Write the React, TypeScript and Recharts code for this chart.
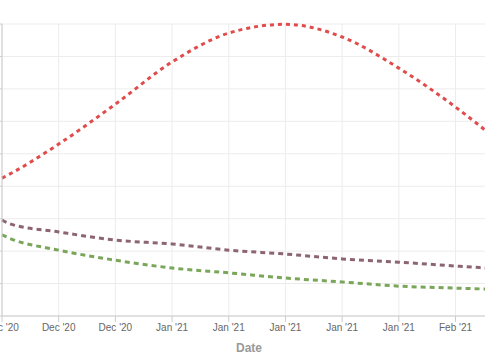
import { LineChart, Line, XAxis, YAxis, CartesianGrid } from 'recharts';

// days after the first tick (Dec '20)
const days = [0, 1, 7, 14, 21, 28, 35, 42, 49, 56, 61];
const seriesA = [425, 438, 530, 653, 783, 872, 899, 860, 764, 644, 546];
const seriesB = [296, 284, 259, 234, 222, 203, 191, 176, 166, 154, 146];
const seriesC = [250, 239, 203, 172, 148, 133, 117, 105, 92, 86, 82];

const xTicks = [0, 7, 14, 21, 28, 35, 42, 49, 56];
const xTickLabels = ["Dec '20", "Dec '20", "Dec '20", "Jan '21", "Jan '21", "Jan '21", "Jan '21", "Jan '21", "Feb '21"];
const yTicks = [0, 100, 200, 300, 400, 500, 600, 700, 800, 900];

const data = days.map((d, i) => ({ day: d, a: seriesA[i], b: seriesB[i], c: seriesC[i] }));

const fmtX = (v: number) => {
    const i = xTicks.indexOf(v);
    return i >= 0 ? xTickLabels[i] : '';
};

export default function App() {
    return (
        <div style={{ position: 'fixed', left: 0, top: 0, width: 485, height: 360, overflow: 'hidden', background: '#fff' }}>
            <div style={{ position: 'absolute', left: -56, top: 0 }}>
                <LineChart
                    width={562}
                    height={360}
                    data={data}
                    margin={{ top: 24, right: 10, bottom: 4, left: 0 }}
                    style={{ fontFamily: 'Liberation Sans, Arial, sans-serif' }}
                >
                    <CartesianGrid stroke="#ececec" />
                    <XAxis
                        dataKey="day"
                        type="number"
                        domain={[0, 61]}
                        ticks={xTicks}
                        tickFormatter={fmtX}
                        height={40}
                        stroke="#ccc"
                        tick={{ fontSize: 10, fill: '#666' }}
                        label={{ value: 'Date', position: 'insideBottom', offset: 4, fill: '#999', fontWeight: 'bold', fontSize: 12 }}
                    />
                    <YAxis width={58} domain={[0, 900]} ticks={yTicks} stroke="#ccc" tick={{ fontSize: 10, fill: '#666' }} />
                    <Line type="monotone" dataKey="a" stroke="#e04b4b" strokeWidth={3} strokeDasharray="4 4" dot={false} isAnimationActive={false} />
                    <Line type="monotone" dataKey="b" stroke="#8c6570" strokeWidth={3} strokeDasharray="5 4" dot={false} isAnimationActive={false} />
                    <Line type="monotone" dataKey="c" stroke="#7aa65a" strokeWidth={3} strokeDasharray="5 4" dot={false} isAnimationActive={false} />
                </LineChart>
            </div>
        </div>
    );
}
